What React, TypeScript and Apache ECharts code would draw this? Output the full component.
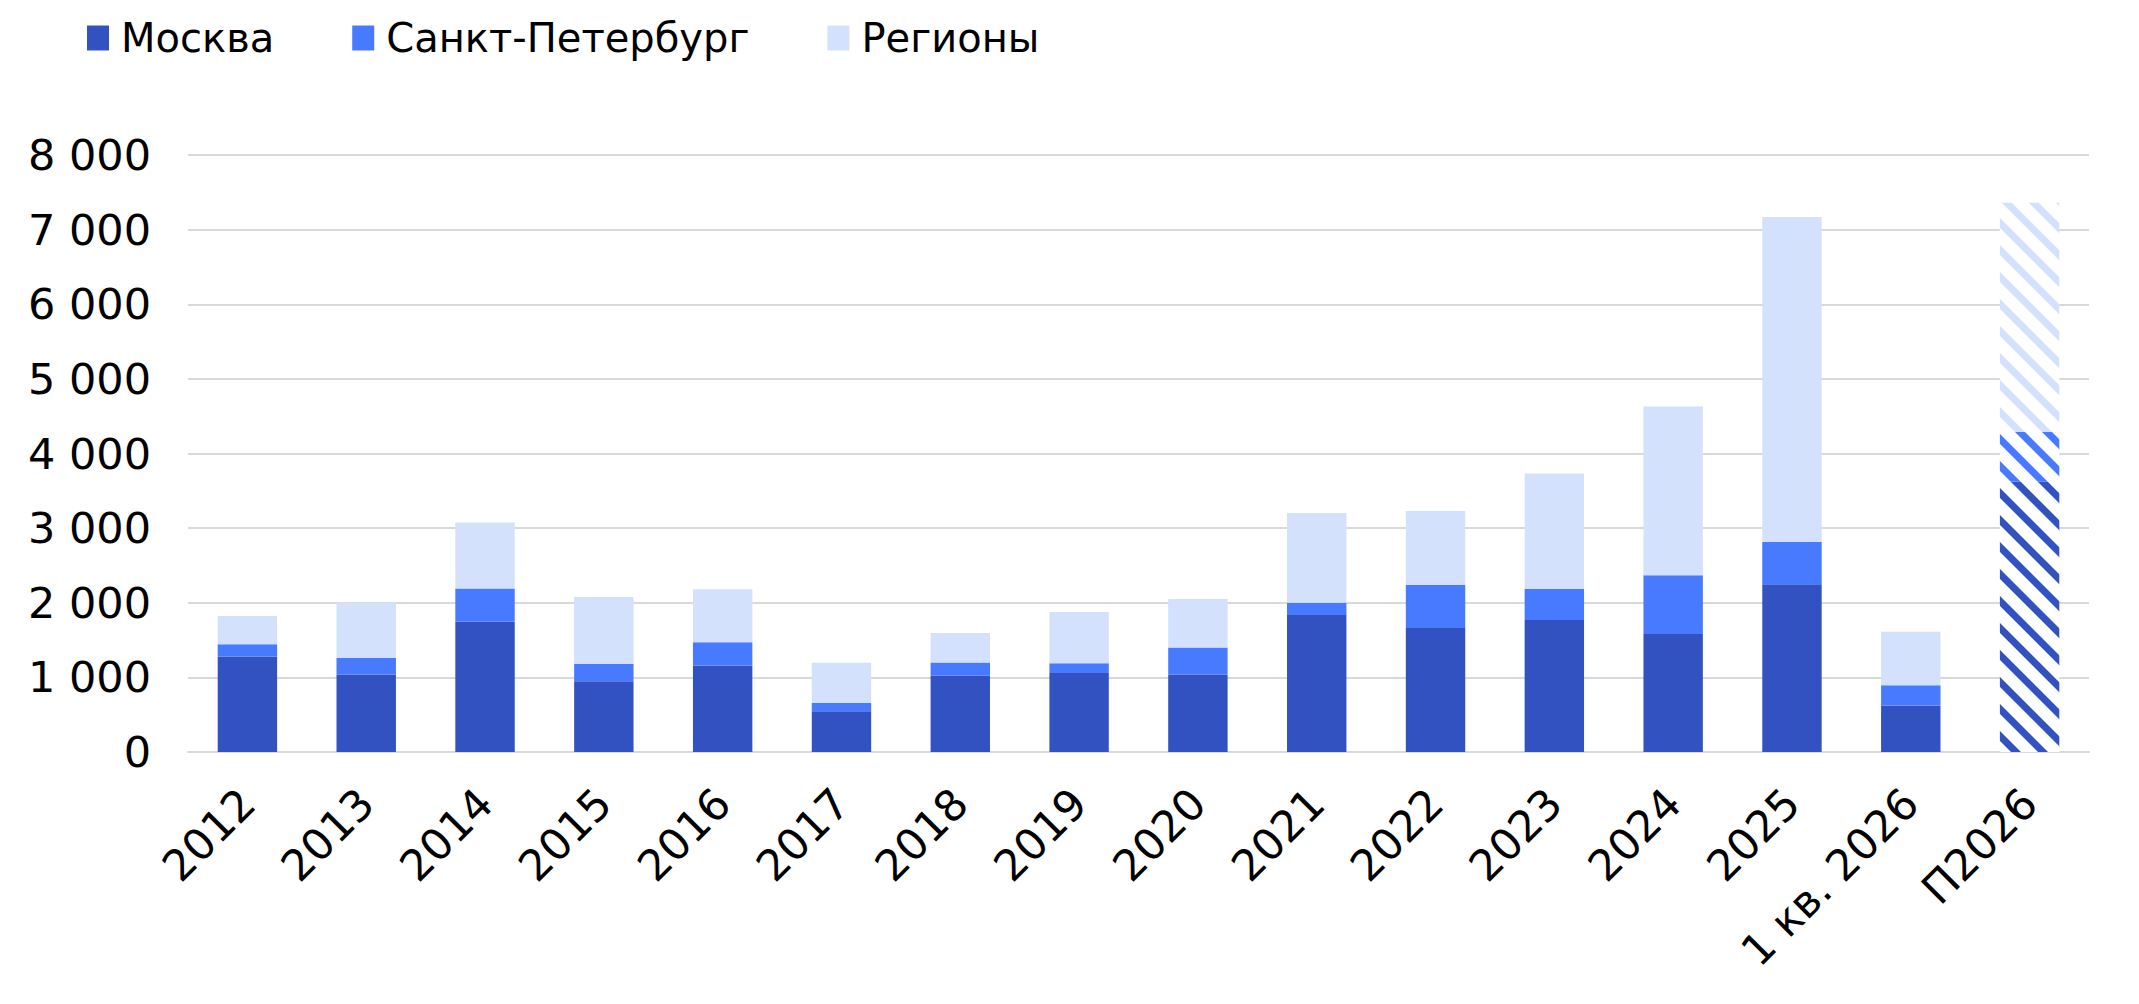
import React, { useEffect, useRef } from "react";
import * as echarts from "echarts";

const categories = ["2012", "2013", "2014", "2015", "2016", "2017", "2018", "2019", "2020", "2021", "2022", "2023", "2024", "2025", "1 кв. 2026", "П2026"];
const moscow = [1280, 1040, 1747, 947, 1160, 547, 1022, 1058, 1036, 1836, 1662, 1769, 1582, 2249, 622, 3620];
const spb = [164, 218, 444, 231, 311, 111, 179, 130, 366, 164, 578, 418, 787, 564, 271, 670];
const regions = [378, 746, 885, 898, 711, 538, 393, 687, 647, 1204, 991, 1546, 2262, 4357, 720, 3071];
const seriesNames = ["Москва", "Санкт-Петербург", "Регионы"];
const seriesColors = ["#3352C2", "#487AFF", "#D4E1FC"];
const forecastIndex = 15;

function makePattern(color: string) {
  const W = 27;
  const H = 27;
  const t = 10;
  const c = document.createElement("canvas");
  c.width = W;
  c.height = H;
  const ctx = c.getContext("2d")!;
  ctx.fillStyle = "#ffffff";
  ctx.fillRect(0, 0, W, H);
  ctx.fillStyle = color;
  for (let k = -2; k <= 1; k++) {
    const y0 = k * H;
    ctx.beginPath();
    ctx.moveTo(0, y0);
    ctx.lineTo(W, y0 + H);
    ctx.lineTo(W, y0 + H + t);
    ctx.lineTo(0, y0 + t);
    ctx.closePath();
    ctx.fill();
  }
  return { image: c, repeat: "repeat", imageWidth: W, imageHeight: H } as any;
}

function fmt(v: number) {
  return String(v).replace(/\B(?=(\d{3})+(?!\d))/g, " ");
}

export default function App() {
  const ref = useRef<HTMLDivElement>(null);
  useEffect(() => {
    if (!ref.current) return;
    const chart = echarts.init(ref.current, null, { renderer: "svg" });
    const font = "DejaVu Sans";
    const values = [moscow, spb, regions];
    const series = values.map((arr, si) => ({
      name: seriesNames[si],
      type: "bar",
      stack: "total",
      barWidth: "50%",
      itemStyle: { color: seriesColors[si] },
      data: arr.map((v, i) =>
        i === forecastIndex ? { value: v, itemStyle: { color: makePattern(seriesColors[si]) } } : v
      ),
    }));
    chart.setOption({
      animation: false,
      backgroundColor: "#ffffff",
      textStyle: { fontFamily: font },
      legend: {
        left: 82,
        top: 13,
        icon: "rect",
        itemWidth: 22,
        itemHeight: 25,
        itemGap: 78,
        textStyle: { fontFamily: font, fontSize: 40, color: "#000", padding: [0, 0, 0, 7] },
        data: seriesNames,
      },
      grid: { left: 188, right: 50, top: 155, bottom: 252, containLabel: false },
      xAxis: {
        type: "category",
        data: categories,
        axisTick: { show: false },
        axisLine: { lineStyle: { color: "#D9D9D9", width: 2 } },
        axisLabel: { rotate: 45, fontSize: 43, color: "#000", fontFamily: font, margin: 44, interval: 0 },
      },
      yAxis: {
        type: "value",
        min: 0,
        max: 8000,
        interval: 1000,
        axisLine: { show: false },
        axisTick: { show: false },
        splitLine: { lineStyle: { color: "#D9D9D9", width: 2 } },
        axisLabel: { fontSize: 43, color: "#000", fontFamily: font, margin: 37, formatter: (v: number) => fmt(v) },
      },
      series,
    } as any);
    return () => chart.dispose();
  }, []);
  return <div ref={ref} style={{ position: "absolute", left: 0, top: 0, width: 2139, height: 1004 }} />;
}
